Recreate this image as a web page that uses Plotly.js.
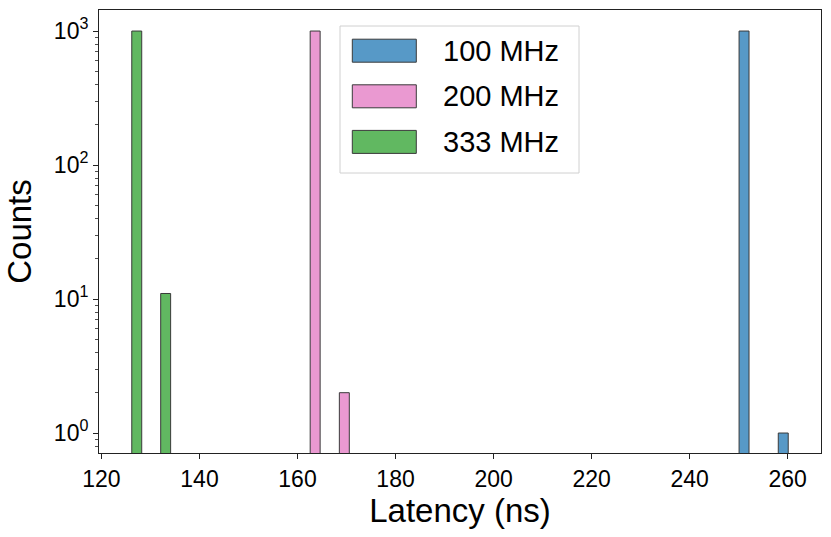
<!DOCTYPE html>
<html>
<head>
<meta charset="utf-8">
<script src="https://cdn.plot.ly/plotly-3.0.1.min.js"></script>
<style>html,body{margin:0;padding:0;background:#fff;}#chart{width:831px;height:537px;}</style>
</head>
<body>
<div id="chart"></div>
<script>
// ---- data ----
const seriesNames = ["100 MHz", "200 MHz", "333 MHz"];
const latency100 = [251.1, 259.1];
const counts100 = [1000, 1];
const latency200 = [163.6, 169.55];
const counts200 = [1000, 2];
const latency333 = [127.2, 133.1];
const counts333 = [1000, 11];
const binWidth = 2.03;
const xTickVals = [120, 140, 160, 180, 200, 220, 240, 260];
const yTickVals = [1, 10, 100, 1000];
const yTickText = ["10<sup>0</sup>", "10<sup>1</sup>", "10<sup>2</sup>", "10<sup>3</sup>"];

// ---- style ----
const colors = ["#5799c7", "#ea99d1", "#61b861"];
const edge = "#3a3a3a";
const font = "Liberation Sans, Arial, Helvetica, sans-serif";

const xs = [latency100, latency200, latency333];
const ys = [counts100, counts200, counts333];

const traces = xs.map((x, i) => ({
  type: "bar",
  x: x,
  y: ys[i],
  width: x.map(() => binWidth),
  name: seriesNames[i],
  marker: { color: colors[i], line: { color: edge, width: 1 } },
  showlegend: false,
  hoverinfo: "x+y"
}));

// plot area in pixels
const L = 99, R = 821, T = 10, B = 453;
const W = 831, H = 537;
const px = v => (v - L) / (R - L);
const py = v => (B - v) / (B - T);

// custom legend (matplotlib style wide swatches)
const shapes = [{
  type: "rect", xref: "paper", yref: "paper",
  x0: px(340), x1: px(579), y0: py(173), y1: py(26),
  line: { color: "#d0d0d0", width: 1 }, fillcolor: "rgba(255,255,255,0.85)", layer: "above"
}];
const annotations = [];
seriesNames.forEach((nm, i) => {
  const cy = 50.7 + i * 45.6;
  shapes.push({
    type: "rect", xref: "paper", yref: "paper",
    x0: px(352.3), x1: px(416.3), y0: py(cy + 11.5), y1: py(cy - 11.5),
    line: { color: edge, width: 1 }, fillcolor: colors[i], layer: "above"
  });
  annotations.push({
    xref: "paper", yref: "paper", x: px(441), y: py(cy),
    xanchor: "left", yanchor: "middle", showarrow: false,
    text: nm, font: { family: font, size: 29, color: "#000" }
  });
});

const layout = {
  width: W, height: H,
  margin: { l: L, r: W - R, t: T, b: H - B, pad: 0 },
  paper_bgcolor: "#fff", plot_bgcolor: "#fff",
  showlegend: false,
  bargap: 0,
  barmode: "overlay",
  font: { family: font, color: "#000" },
  xaxis: {
    range: [119.5, 266.8],
    tickvals: xTickVals,
    ticks: "outside", ticklen: 5, tickwidth: 1, tickcolor: "#222",
    tickfont: { family: font, size: 23, color: "#000" },
    showline: true, linecolor: "#222", linewidth: 1, mirror: true,
    showgrid: false, zeroline: false,
    title: { text: "Latency (ns)", font: { family: font, size: 33, color: "#000" }, standoff: 4 }
  },
  yaxis: {
    type: "log",
    range: [-0.149, 3.157],
    tickvals: yTickVals, ticktext: yTickText,
    ticks: "outside", ticklen: 5, tickwidth: 1, tickcolor: "#222",
    tickfont: { family: font, size: 23, color: "#000" },
    minor: { ticks: "outside", ticklen: 3, tickwidth: 0.8, tickcolor: "#222", dtick: "D1", showgrid: false },
    showline: true, linecolor: "#222", linewidth: 1, mirror: true,
    showgrid: false, zeroline: false,
    title: { text: "Counts", font: { family: font, size: 33, color: "#000" }, standoff: 12 }
  },
  shapes: shapes,
  annotations: annotations
};

Plotly.newPlot("chart", traces, layout, { staticPlot: true, displayModeBar: false });
</script>
</body>
</html>
